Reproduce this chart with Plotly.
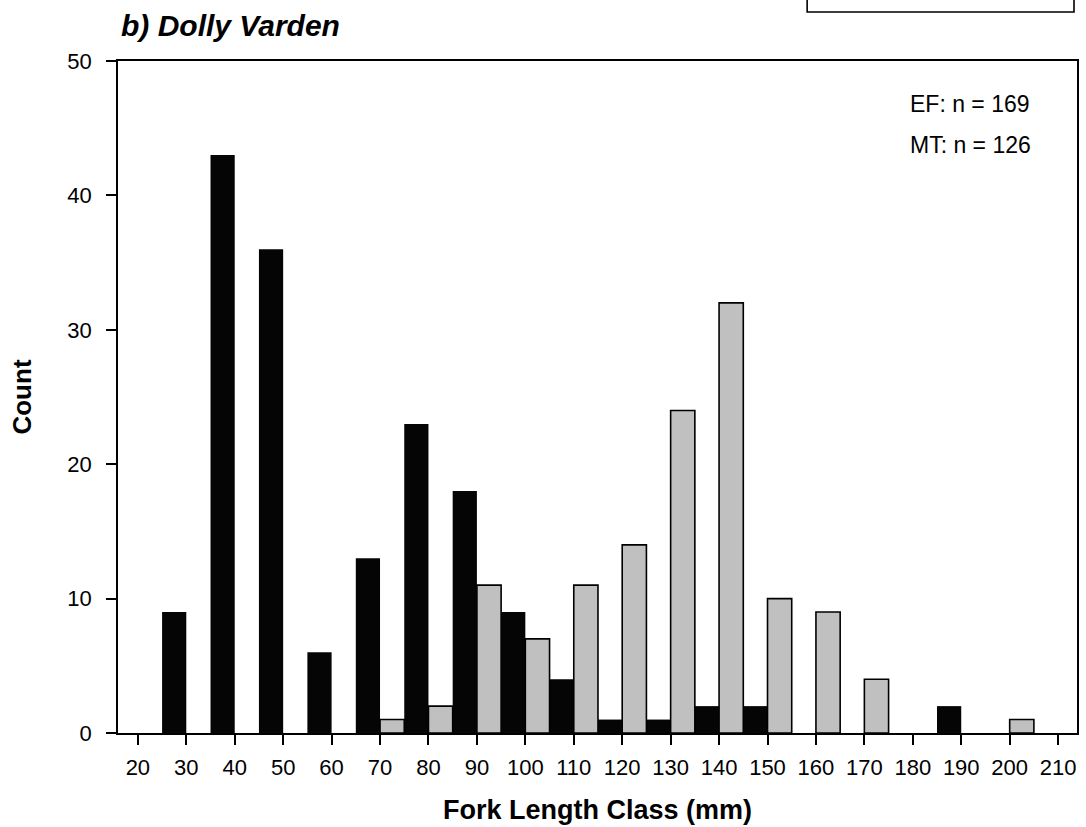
import plotly.graph_objects as go

# Fork length classes (mm) and counts
ef_classes = [30, 40, 50, 60, 70, 80, 90, 100, 110, 120, 130, 140, 150, 190]
ef_counts = [9, 43, 36, 6, 13, 23, 18, 9, 4, 1, 1, 2, 2, 2]
mt_classes = [70, 80, 90, 100, 110, 120, 130, 140, 150, 160, 170, 200]
mt_counts = [1, 2, 11, 7, 11, 14, 24, 32, 10, 9, 4, 1]
x_ticks = list(range(20, 211, 10))
y_ticks = [0, 10, 20, 30, 40, 50]

FONT = "Arial, Liberation Sans, sans-serif"
W, H = 1086, 827
L, R, T, B = 117.5, 9, 61, 93.5
pw = W - L - R
ph = H - T - B

def px(x):
    return (x - L) / pw

def py(y):
    return (H - B - y) / ph

fig = go.Figure()
fig.add_trace(go.Bar(
    x=[c - 2.5 for c in ef_classes], y=ef_counts, width=5,
    marker=dict(color="#050505", line=dict(width=0)), name="EF",
))
fig.add_trace(go.Bar(
    x=[c + 2.5 for c in mt_classes], y=mt_counts, width=5,
    marker=dict(color="#c0c0c0", line=dict(color="#000000", width=1.6)), name="MT",
))

fig.update_layout(
    width=W, height=H,
    margin=dict(l=L, r=R, t=T, b=B, pad=0),
    paper_bgcolor="white", plot_bgcolor="white",
    barmode="overlay", showlegend=False,
    font=dict(family=FONT, color="black", size=22),
    xaxis=dict(
        range=[15.9, 213.9], tickmode="array", tickvals=x_ticks,
        ticktext=[str(v) for v in x_ticks],
        showline=True, linecolor="black", linewidth=1.6, mirror=True,
        ticks="outside", ticklen=10, tickwidth=1.6, tickcolor="black",
        showgrid=False, zeroline=False, automargin=False,
        tickfont=dict(size=22, family=FONT),
        ticklabelstandoff=4,
        title=dict(text="<b>Fork Length Class (mm)</b>", font=dict(size=27, family=FONT), standoff=21),
    ),
    yaxis=dict(
        range=[0, 50], tickmode="array", tickvals=y_ticks,
        showline=True, linecolor="black", linewidth=1.6, mirror=True,
        ticks="outside", ticklen=10, tickwidth=1.6, tickcolor="black",
        showgrid=False, zeroline=False, automargin=False,
        tickfont=dict(size=22, family=FONT),
        ticklabelstandoff=10,
        title=dict(text="<b>Count</b>", font=dict(size=26, family=FONT), standoff=28),
    ),
)

fig.add_annotation(
    text="<b><i>b) Dolly Varden</i></b>", xref="paper", yref="paper",
    x=px(119), y=py(25), xanchor="left", yanchor="middle", showarrow=False,
    font=dict(size=30, family=FONT),
)
fig.add_annotation(
    text="EF: n = 169", xref="paper", yref="paper",
    x=px(908), y=py(104), xanchor="left", yanchor="middle", showarrow=False,
    font=dict(size=23, family=FONT),
)
fig.add_annotation(
    text="MT: n = 126", xref="paper", yref="paper",
    x=px(908), y=py(145), xanchor="left", yanchor="middle", showarrow=False,
    font=dict(size=23, family=FONT),
)
# partially visible legend box at top right
fig.add_shape(
    type="rect", xref="paper", yref="paper",
    x0=px(807), x1=px(1074), y0=py(12), y1=py(-10),
    line=dict(color="black", width=1.6), fillcolor="rgba(0,0,0,0)",
)

fig.write_html(
    "out.html",
    config={"displayModeBar": False},
    post_script="document.body.style.margin='0px';",
)
